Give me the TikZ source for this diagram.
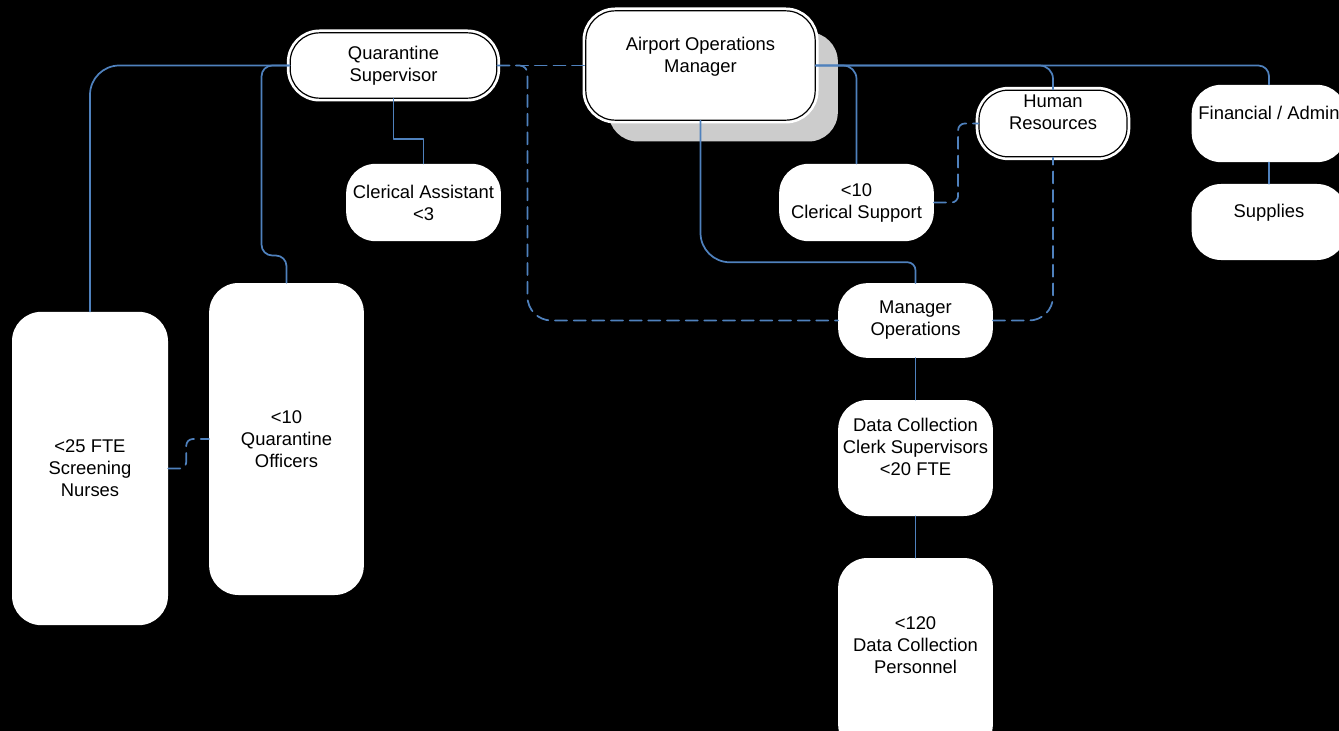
\documentclass[tikz,border=0pt]{standalone}
\usepackage{fontspec}
\setmainfont{Liberation Sans}
\usetikzlibrary{shadows}
\definecolor{linkblue}{RGB}{79,129,189}
\tikzset{
  orgbox/.style={fill=white,rounded corners=22pt,align=center,font=\fontsize{13.8}{16.5}\selectfont,minimum width=116pt},
  ringbox/.style={orgbox,draw=black,line width=0.9pt,preaction={draw=white,line width=5pt}},
  solidlink/.style={draw=linkblue,line width=1.3pt},
  dashlink/.style={solidlink,dash pattern=on 9pt off 5pt},
}
\begin{document}
\begin{tikzpicture}[line cap=round,line join=round,x=0.75pt,y=-0.75pt]
\useasboundingbox (0,0) rectangle (1339,731);
\fill[black] (0,0) rectangle (1339,731);
\clip (0,0) rectangle (1339,731);
\node[ringbox,minimum width=155pt,minimum height=49pt] (qs) at (393.5,65.5) {Quarantine\\Supervisor};
\node[drop shadow={shadow xshift=17pt,shadow yshift=-16pt,fill=gray!40,draw=none,opacity=1},ringbox,minimum width=172pt,minimum height=82pt] (aom) at (700.5,65.5) {Airport Operations\\Manager\\~};
\node[ringbox,minimum width=111pt,minimum height=50pt] (hr) at (1053,123.5) {Human\\Resources\\~};
\node[orgbox,minimum height=58pt] (fin) at (1269,123.5) {Financial / Admin\\~};
\node[orgbox,minimum height=57pt] (sup) at (1269,222) {Supplies\\~};
\node[orgbox,minimum height=58pt] (ca) at (423.5,202.5) {Clerical Assistant\\<3};
\node[orgbox,minimum height=58pt] (cs) at (856.5,202.5) {<10\\Clerical Support};
\node[orgbox,minimum height=56pt] (mo) at (915.5,320.5) {Manager\\Operations};
\node[orgbox,minimum height=87pt] (dc) at (915.5,458) {Data Collection\\Clerk Supervisors\\<20 FTE\\~};
\node[orgbox,minimum height=147pt] (dp) at (915.5,656) {<120\\Data Collection\\Personnel\\~};
\node[orgbox,minimum height=234pt] (qo) at (286.5,439) {<10\\Quarantine\\Officers};
\node[orgbox,minimum width=117pt,minimum height=235pt] (sn) at (90,468.5) {<25 FTE\\Screening\\Nurses};
\draw[solidlink,rounded corners=22pt] (qs.west) -| (sn.north);
\draw[solidlink,rounded corners=8pt] (qs.west) -| ++(-28,190) -| (qo.north);
\draw[solidlink] (qs.south) -- ++(0,40) -| (ca.north);
\draw[solidlink] (aom.south) [rounded corners=22pt] |- ++(100,141.5) [rounded corners=6pt] -| (mo.north);
\draw[solidlink,rounded corners=8pt] (aom.east) -| (fin.north);
\draw[solidlink,rounded corners=10pt] (aom.east) -| (cs.north);
\draw[solidlink,rounded corners=10pt] (aom.east) -| (hr.north);
\draw[solidlink] (fin.south) -- (sup.north);
\draw[solidlink] (mo.south) -- (dc.north);
\draw[solidlink] (dc.south) -- (dp.north);
\draw[dashlink] (qs.east) -- (aom.west);
\draw[dashlink] (qs.east) [rounded corners=6pt] -| ++(30,100) [rounded corners=18pt] |- (mo.west);
\draw[dashlink,rounded corners=18pt] (mo.east) -| (hr.south);
\draw[dashlink,rounded corners=5pt] (cs.east) -- ++(24,0) |- (hr.west);
\draw[dashlink,rounded corners=5pt] (sn.east) -- ++(18,0) |- (qo.west);
\end{tikzpicture}
\end{document}
